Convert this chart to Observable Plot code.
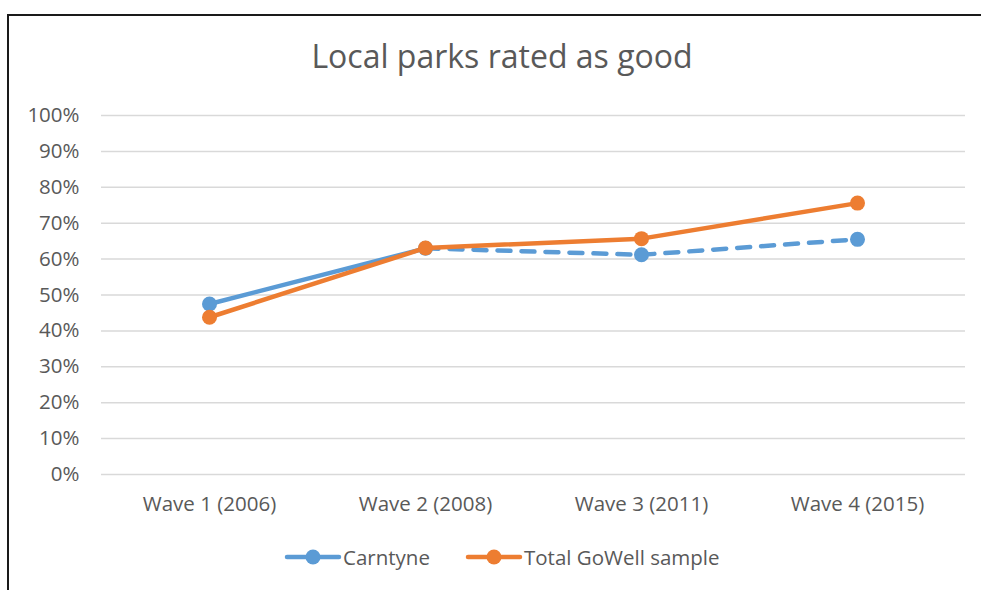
<!DOCTYPE html>
<html>
<head>
<meta charset="utf-8">
<script src="https://cdn.jsdelivr.net/npm/d3@7"></script>
<script src="https://cdn.jsdelivr.net/npm/@observablehq/plot@0.6"></script>
<style>
  html, body { margin: 0; padding: 0; background: #fff; }
  body { width: 981px; height: 590px; position: relative; overflow: hidden; font-family: "Open Sans", sans-serif; color: #595959; }
  #frame { position: absolute; left: 7px; top: 14px; width: 1000px; height: 600px; border-left: 2px solid #1a1a1a; border-top: 2px solid #1a1a1a; }
  #title { position: absolute; left: 0; width: 1004px; top: 34px; text-align: center; font-size: 32px; color: #595959; }
  #chart { position: absolute; left: 0; top: 90px; }
  #legend { position: absolute; left: 0; top: 544px; width: 981px; height: 26px; }
  .item { position: absolute; top: 0; height: 26px; display: flex; align-items: center; font-size: 20.5px; color: #595959; }
  .item svg { display: block; }
</style>
</head>
<body>
<div id="frame"></div>
<div id="title">Local parks rated as good</div>
<div id="chart"></div>
<div id="legend"></div>
<script>
const waves = ["Wave 1 (2006)", "Wave 2 (2008)", "Wave 3 (2011)", "Wave 4 (2015)"];
const carntyne = [47.5, 63.0, 61.2, 65.5];
const totalGoWell = [43.8, 63.1, 65.7, 75.6];
const seriesNames = ["Carntyne", "Total GoWell sample"];
const colors = ["#5B9BD5", "#ED7D31"];
const yTicks = [0, 10, 20, 30, 40, 50, 60, 70, 80, 90, 100];

const blue = waves.map((w, i) => ({wave: w, value: carntyne[i], i}));
const orange = waves.map((w, i) => ({wave: w, value: totalGoWell[i], i}));

const plot = Plot.plot({
  width: 981,
  height: 430,
  marginLeft: 101,
  marginRight: 16,
  marginTop: 25,
  marginBottom: 46,
  style: {fontFamily: "Open Sans, sans-serif", fontSize: "20.5px", color: "#595959", background: "transparent"},
  x: {type: "point", domain: waves, padding: 0.5, label: null, tickSize: 0, tickPadding: 22},
  y: {domain: [0, 100], ticks: yTicks, tickFormat: d => d + "%", label: null, tickSize: 0, tickPadding: 22},
  marks: [
    Plot.gridY(yTicks, {stroke: "#D9D9D9", strokeOpacity: 1, strokeWidth: 1.5}),
    Plot.lineY(blue.filter(d => d.i <= 1), {x: "wave", y: "value", stroke: colors[0], strokeWidth: 4.5, strokeLinecap: "round"}),
    Plot.lineY(blue.filter(d => d.i >= 1), {x: "wave", y: "value", stroke: colors[0], strokeWidth: 4.5, strokeLinecap: "round", strokeDasharray: "13,11"}),
    Plot.dot(blue, {x: "wave", y: "value", fill: colors[0], r: 7.5}),
    Plot.lineY(orange, {x: "wave", y: "value", stroke: colors[1], strokeWidth: 4.5, strokeLinecap: "round"}),
    Plot.dot(orange, {x: "wave", y: "value", fill: colors[1], r: 7.5})
  ]
});
document.getElementById("chart").appendChild(plot);

const legend = document.getElementById("legend");
const lefts = [284, 465];
seriesNames.forEach((name, k) => {
  const div = document.createElement("div");
  div.className = "item";
  div.style.left = lefts[k] + "px";
  div.innerHTML = `<svg width="58" height="26"><line x1="3" y1="13" x2="55" y2="13" stroke="${colors[k]}" stroke-width="4.5" stroke-linecap="round"/><circle cx="29" cy="13" r="7.5" fill="${colors[k]}"/></svg><span style="margin-left:1px">${name}</span>`;
  legend.appendChild(div);
});
</script>
</body>
</html>
